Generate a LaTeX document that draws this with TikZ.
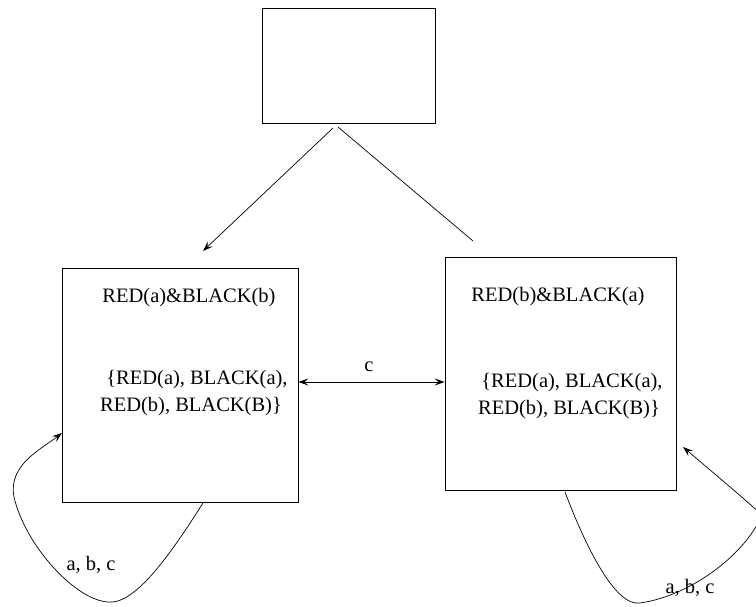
\documentclass[tikz,border=0pt]{standalone}
\usepackage{fontspec}
\setmainfont{Liberation Serif}
\usetikzlibrary{arrows.meta}
\begin{document}
\begin{tikzpicture}[x=1pt,y=-1pt,
  box/.style={draw,line width=0.8pt},
  lbl/.style={font=\fontsize{20.5}{24}\selectfont,inner sep=0pt},
  conn/.style={line width=0.7pt},
  tip/.style={-{Stealth[length=10pt,width=7pt,inset=4pt]}}]
\clip (0,0) rectangle (756,607);
\useasboundingbox (0,0) rectangle (756,607);
% boxes
\node[box,minimum width=173pt,minimum height=115pt] (top) at (348.5,65.5) {};
\node[box,minimum width=236pt,minimum height=234pt] (L) at (180,385) {};
\node[box,minimum width=231pt,minimum height=233pt] (R) at (560.5,373.5) {};
% texts
\node[lbl] (l1) at (189,298) {RED(a)\&BLACK(b)};
\node[lbl] (l2) at (197,380) {\{RED(a), BLACK(a),};
\node[lbl] (l3) at (191,407) {RED(b), BLACK(B)\}};
\node[lbl] (r1) at (558,297) {RED(b)\&BLACK(a)};
\node[lbl] (r2) at (572,383) {\{RED(a), BLACK(a),};
\node[lbl] (r3) at (569,410) {RED(b), BLACK(B)\}};
\node[lbl] (c) at (369,367) {c};
\node[lbl] (ll) at (91,565) {a, b, c};
\node[lbl] (rl) at (690,588) {a, b, c};
% connector coordinates
\coordinate (t1) at (333,128);
\coordinate (t2) at (203,251);
\coordinate (t3) at (338,127);
\coordinate (t4) at (473,241);
\draw[conn,tip] (t1) -- (t2);
\draw[conn] (t3) -- (t4);
\draw[conn,{Stealth[length=10pt,width=7pt,inset=4pt]}-{Stealth[length=10pt,width=7pt,inset=4pt]}] (L.east |- 0,382) -- (R.west |- 0,382);
% loops
\coordinate (ls) at (203,503);
\coordinate (le) at (62,433);
\draw[conn,tip] (ls) .. controls (170,555) and (135,605) .. (108,602)
  .. controls (75,600) and (25,545) .. (14,497)
  .. controls (8,465) and (40,450) .. (le);
\coordinate (rs) at (565,492);
\coordinate (re) at (683,447);
\draw[conn,tip] (rs) .. controls (585,545) and (615,607) .. (640,603)
  .. controls (690,596) and (745,555) .. (762,515)
  .. controls (740,495) and (710,470) .. (re);
\end{tikzpicture}
\end{document}
